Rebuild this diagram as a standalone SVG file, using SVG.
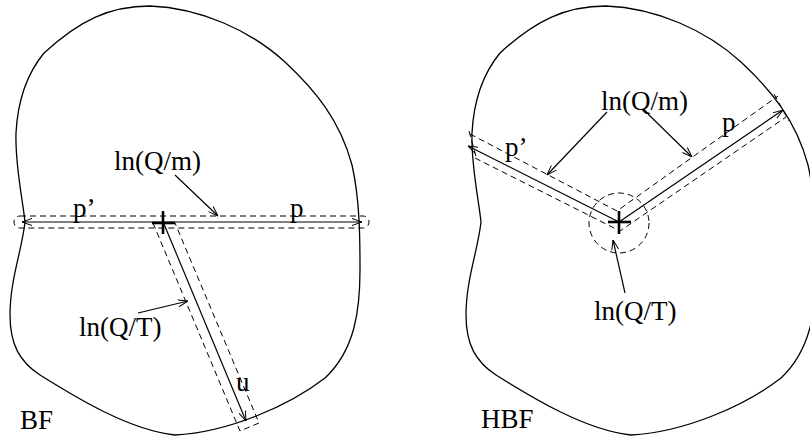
<svg xmlns="http://www.w3.org/2000/svg" width="810" height="436" viewBox="0 0 810 436">
<defs>
<style>
.blob{fill:none;stroke:#000;stroke-width:1.3}
.sol{fill:none;stroke:#000;stroke-width:1.2}
.dash{fill:none;stroke:#000;stroke-width:1;stroke-dasharray:6 4}
.crs{stroke:#000;stroke-width:2.6}
.t{font-family:"Liberation Serif","Times New Roman",serif;font-size:27px;fill:#000}
</style>
<marker id="ah" viewBox="0 0 10 8" refX="10" refY="4" markerWidth="10" markerHeight="8" markerUnits="userSpaceOnUse" orient="auto">
<path d="M0,0.5 L10,4 L0,7.5" fill="none" stroke="#000" stroke-width="1"/>
</marker>
<path id="shape" d="M44,53 C30,70 18,95 16,133 C15,165 22,195 25,222 C22,250 10,280 10,315 C10,345 20,362 40,375 C80,400 130,430 175,435 C230,432 290,405 325,378 C355,350 360,310 360,270 C360,240 360,200 352,165 C340,120 315,90 285,62 C250,30 200,8 150,6 C110,6 80,20 44,53 Z"/>
</defs>
<g id="bf">
<use href="#shape" class="blob"/>
<text class="t" x="20" y="429">BF</text>
</g>
<g id="hbf">
<use href="#shape" class="blob" transform="translate(456,0)"/>
<text class="t" x="481" y="428">HBF</text>
</g>
<g id="bf-labels">
<text class="t" x="114" y="170">ln(Q/m)</text>
<text class="t" x="79" y="336">ln(Q/T)</text>
<text class="t" x="73" y="217">p’</text>
<text class="t" x="290" y="217">p</text>
<text class="t" x="236" y="391">u</text>
</g>
<g id="hbf-labels">
<text class="t" x="601" y="110">ln(Q/m)</text>
<text class="t" x="594" y="320">ln(Q/T)</text>
<text class="t" x="505" y="156">p’</text>
<text class="t" x="722" y="131">p</text>
</g>
<g id="connectors">
<path class="dash" d="M20,216 H363 A6,6 0 0 1 363,228 H20 A6,6 0 0 1 20,216 Z"/>
<line class="sol" x1="163" y1="222" x2="22" y2="222" marker-end="url(#ah)"/>
<line class="sol" x1="163" y1="222" x2="362" y2="222" marker-end="url(#ah)"/>
<path class="dash" d="M153,223 L240,431 L259,423 L175,223"/>
<line class="sol" x1="164" y1="224" x2="246" y2="421" marker-end="url(#ah)"/>
<line class="crs" x1="163" y1="211" x2="163" y2="234"/>
<line class="crs" x1="152" y1="223" x2="175" y2="223"/>
<line class="sol" x1="175" y1="175" x2="218" y2="216" marker-end="url(#ah)"/>
<line class="sol" x1="138" y1="313" x2="188" y2="301" marker-end="url(#ah)"/>
<circle class="dash" cx="619" cy="223" r="30"/>
<path class="dash" d="M470,134 L617,211 L778,96"/>
<path class="dash" d="M475,158 L620,231 L786,117"/>
<path class="dash" d="M469,131 L477,160"/>
<path class="dash" d="M774,94 L789,121"/>
<line class="sol" x1="619" y1="222" x2="468" y2="146" marker-end="url(#ah)"/>
<line class="sol" x1="619" y1="222" x2="783" y2="110" marker-end="url(#ah)"/>
<line class="crs" x1="619" y1="211" x2="619" y2="234"/>
<line class="crs" x1="608" y1="222" x2="631" y2="222"/>
<line class="sol" x1="607" y1="112" x2="547" y2="175" marker-end="url(#ah)"/>
<line class="sol" x1="648" y1="114" x2="692" y2="157" marker-end="url(#ah)"/>
<line class="sol" x1="625" y1="293" x2="613" y2="240" marker-end="url(#ah)"/>
</g>
</svg>
